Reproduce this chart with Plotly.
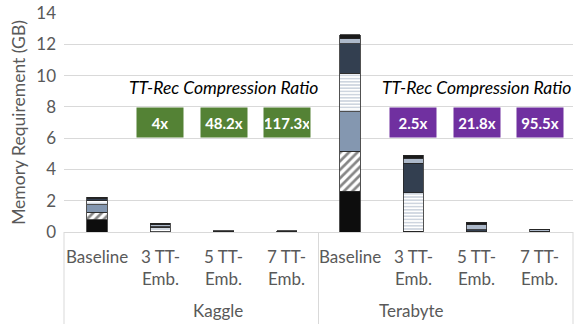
import plotly.graph_objects as go

datasets = ["Kaggle"] * 4 + ["Terabyte"] * 4
configs = ["Baseline", "3 TT-<br>Emb.", "5 TT-<br>Emb.", "7 TT-<br>Emb."] * 2
group_names = ["Kaggle", "Terabyte"]

# stacked memory segments (GB), bottom to top
seg_black = [0.78, 0.01, 0.01, 0.01, 2.60, 0.02, 0.01, 0.01]
seg_diag = [0.48, 0.01, 0.01, 0.01, 2.55, 0.02, 0.01, 0.01]
seg_steel = [0.47, 0.01, 0.01, 0.01, 2.55, 0.02, 0.01, 0.01]
seg_hstripe = [0.27, 0.27, 0.01, 0.01, 2.45, 2.45, 0.01, 0.01]
seg_navy = [0.12, 0.05, 0.01, 0.01, 1.87, 1.88, 0.10, 0.02]
seg_light = [0.05, 0.10, 0.01, 0.01, 0.33, 0.32, 0.33, 0.08]
seg_top = [0.05, 0.12, 0.02, 0.01, 0.26, 0.20, 0.15, 0.05]

kaggle_ratios = ["4x", "48.2x", "117.3x"]
terabyte_ratios = ["2.5x", "21.8x", "95.5x"]
ratio_title = "TT-Rec Compression Ratio"

x = [datasets, configs]
line = dict(color="#262626", width=0.8)
GRAY = "#595959"
FONT = "Lato, sans-serif"

fig = go.Figure()
series = [
    (seg_black, dict(color="#0d0d0d")),
    (seg_diag, dict(color="white", pattern=dict(shape="/", fgcolor="#0d0d0d", bgcolor="white", size=6, solidity=0.45))),
    (seg_steel, dict(color="#8497b0")),
    (seg_hstripe, dict(color="white", pattern=dict(shape="-", fgcolor="#8497b0", bgcolor="white", size=3.2, solidity=0.4))),
    (seg_navy, dict(color="#333f50")),
    (seg_light, dict(color="#adb9ca")),
    (seg_top, dict(color="#1a1a1a")),
]
for vals, mk in series:
    mk = dict(mk)
    mk["line"] = line
    fig.add_trace(go.Bar(x=x, y=vals, marker=mk, showlegend=False, hoverinfo="skip"))

fig.update_layout(
    barmode="stack",
    bargap=0.68,
    width=581, height=324,
    margin=dict(l=64, r=8, t=13, b=92, autoexpand=False),
    paper_bgcolor="white", plot_bgcolor="white",
    font=dict(family=FONT, size=17, color=GRAY),
)
fig.update_yaxes(
    range=[0, 14], dtick=2, gridcolor="#d9d9d9", gridwidth=1,
    zeroline=False, showline=False, ticks="", automargin=False,
    ticklabelstandoff=7,
    title=dict(text="Memory Requirement (GB)", font=dict(size=17.5, color=GRAY), standoff=6),
    tickfont=dict(size=17, color=GRAY),
)
fig.update_xaxes(
    type="multicategory", showline=True, linecolor="#d9d9d9", linewidth=1,
    showdividers=False, showticklabels=False, ticks="", automargin=False,
)

# category labels
for ds, cfg in zip(datasets, configs):
    fig.add_annotation(x=[ds, cfg], y=-0.055, yref="paper", yanchor="top", text=cfg,
                       showarrow=False, font=dict(size=17, color=GRAY))
for i, g in enumerate(group_names):
    fig.add_annotation(x=0.25 + 0.5 * i, xref="paper", y=-0.36, yref="paper", yanchor="middle",
                       text=g, showarrow=False, font=dict(size=17, color=GRAY))
for px in [0, 0.5, 1]:
    fig.add_shape(type="line", xref="paper", yref="paper", x0=px, x1=px, y0=0, y1=-0.45,
                  line=dict(color="#d9d9d9", width=1))

fig.add_annotation(x=["Kaggle", "5 TT-<br>Emb."], y=9.25, text="<i>" + ratio_title + "</i>",
                   showarrow=False, font=dict(size=17.5, color="#000000"))
fig.add_annotation(x=["Terabyte", "5 TT-<br>Emb."], y=9.25, text="<i>" + ratio_title + "</i>",
                   showarrow=False, font=dict(size=17.5, color="#000000"))
for cfg, txt in zip(configs[1:4], kaggle_ratios):
    fig.add_annotation(x=["Kaggle", cfg], y=7.0, text="<b>" + txt + "</b>", showarrow=False,
                       bgcolor="#548235", width=44, height=27, font=dict(size=15, color="white"))
for cfg, txt in zip(configs[5:8], terabyte_ratios):
    fig.add_annotation(x=["Terabyte", cfg], y=7.0, text="<b>" + txt + "</b>", showarrow=False,
                       bgcolor="#7030a0", width=44, height=27, font=dict(size=15, color="white"))

# remove the page's default body margin so the figure fills the window exactly
fig.write_html("out.html", config={"displayModeBar": False},
               post_script="document.body.style.margin='0';document.body.style.overflow='hidden';")
